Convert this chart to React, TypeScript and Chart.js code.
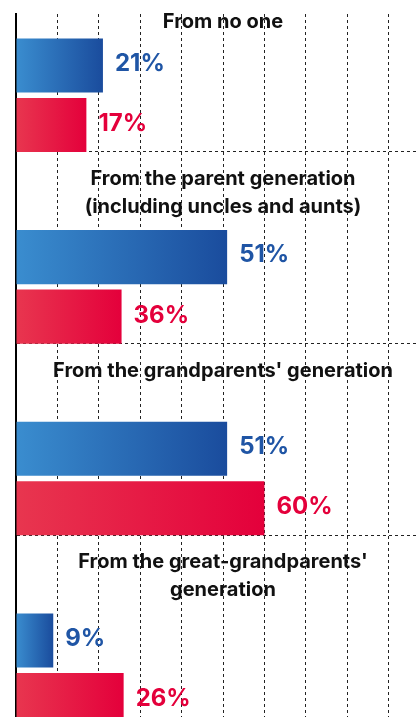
import React, { useEffect, useRef } from "react";
import { Chart, registerables } from "chart.js";

Chart.register(...registerables);

// ---- data ----
const categories: string[][] = [
  ["From no one"],
  ["From the parent generation", "(including uncles and aunts)"],
  ["From the grandparents' generation"],
  ["From the great-grandparents'", "generation"],
];
const blueValues = [21, 51, 51, 9];
const redValues = [17, 25.5, 60, 26];
const blueLabels = ["21%", "51%", "51%", "9%"];
const redLabels = ["17%", "36%", "60%", "26%"];

const BLUE_START = "#3a8dcf";
const BLUE_END = "#1a4c9d";
const RED_START = "#e8364f";
const RED_END = "#e4003b";
const BLUE_TEXT = "#1f55a5";
const RED_TEXT = "#e4003b";
const FONT = "Inter, 'DejaVu Sans', sans-serif";

function gradient(c0: string, c1: string) {
  return (ctx: any) => {
    const chart = ctx.chart;
    const xs = chart.scales && chart.scales.x;
    if (!chart.chartArea || !xs || ctx.type !== "data" || !ctx.parsed) return c1;
    const x0 = xs.getPixelForValue(0);
    const x1 = xs.getPixelForValue(ctx.parsed.x);
    if (!isFinite(x0) || !isFinite(x1) || x1 <= x0) return c1;
    const g = chart.ctx.createLinearGradient(x0, 0, x1, 0);
    g.addColorStop(0, c0);
    g.addColorStop(1, c1);
    return g;
  };
}

const textPlugin = {
  id: "textPlugin",
  afterDatasetsDraw(chart: any) {
    const ctx = chart.ctx;
    const area = chart.chartArea;
    const blueMeta = chart.getDatasetMeta(0);
    const redMeta = chart.getDatasetMeta(1);
    ctx.save();
    // value labels
    ctx.font = `700 24px ${FONT}`;
    ctx.textAlign = "left";
    ctx.textBaseline = "middle";
    blueMeta.data.forEach((bar: any, i: number) => {
      ctx.fillStyle = BLUE_TEXT;
      ctx.fillText(blueLabels[i], bar.x + 12, bar.y - 2);
    });
    redMeta.data.forEach((bar: any, i: number) => {
      ctx.fillStyle = RED_TEXT;
      ctx.fillText(redLabels[i], bar.x + 12, bar.y - 1);
    });
    // category headers
    ctx.font = `700 20px ${FONT}`;
    ctx.fillStyle = "#111111";
    ctx.textAlign = "center";
    const cx = (area.left + area.right) / 2;
    const lh = 28;
    categories.forEach((lines, i) => {
      const prev =
        i === 0
          ? area.top
          : redMeta.data[i - 1].y + redMeta.data[i - 1].height / 2;
      const first = prev + (i === 0 ? 8 : 27);
      lines.forEach((line, j) => {
        ctx.fillText(line, cx, first + j * lh);
      });
    });
    ctx.restore();
  },
};

export default function App() {
  const ref = useRef<HTMLCanvasElement | null>(null);

  useEffect(() => {
    if (!ref.current) return;
    const chart = new Chart(ref.current, {
      type: "bar",
      data: {
        datasets: [
          {
            label: "blue",
            data: blueValues.map((v, i) => ({ x: v, y: i })),
            backgroundColor: gradient(BLUE_START, BLUE_END),
            barPercentage: 0.9076,
            categoryPercentage: 0.621,
          },
          {
            label: "red",
            data: redValues.map((v, i) => ({ x: v, y: i })),
            backgroundColor: gradient(RED_START, RED_END),
            barPercentage: 0.9076,
            categoryPercentage: 0.621,
          },
        ],
      },
      options: {
        indexAxis: "y",
        responsive: false,
        animation: false,
        events: [],
        layout: { padding: { left: 16, top: 14, right: 0, bottom: 0 } },
        plugins: { legend: { display: false }, tooltip: { enabled: false } },
        scales: {
          x: {
            type: "linear",
            min: 0,
            max: 100,
            offset: false,
            ticks: { display: false, stepSize: 10 },
            grid: { drawTicks: false, color: "#222222", lineWidth: 1, offset: false },
            border: { display: false, dash: [3, 3] },
          },
          y: {
            type: "linear",
            reverse: true,
            offset: false,
            min: -0.424,
            max: 3.469,
            afterBuildTicks: (scale: any) => {
              scale.ticks = categories.map((_, i) => ({ value: i + 0.296 }));
            },
            ticks: { display: false },
            grid: { drawTicks: false, color: "#222222", lineWidth: 1, offset: false },
            border: { display: true, color: "#000000", width: 2, dash: [3, 3] },
          },
        },
      },
      plugins: [textPlugin],
    } as any);
    return () => chart.destroy();
  }, []);

  return (
    <div
      style={{
        position: "absolute",
        left: 0,
        top: 0,
        width: 419,
        height: 717,
        overflow: "hidden",
        background: "#ffffff",
      }}
    >
      <canvas ref={ref} width={430} height={760} style={{ display: "block" }} />
    </div>
  );
}
